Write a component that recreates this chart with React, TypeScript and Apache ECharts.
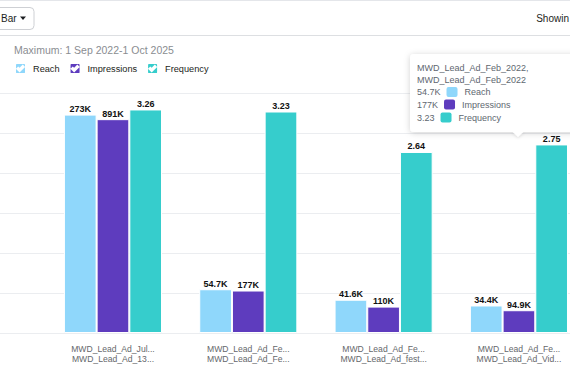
import React, { useEffect, useRef } from "react";
import * as echarts from "echarts";

// ---- data ----
const categoryLabels = [
  "MWD_Lead_Ad_Jul...\nMWD_Lead_Ad_13...",
  "MWD_Lead_Ad_Fe...\nMWD_Lead_Ad_Fe...",
  "MWD_Lead_Ad_Fe...\nMWD_Lead_Ad_fest...",
  "MWD_Lead_Ad_Fe...\nMWD_Lead_Ad_Vid...",
];
const reach = [273000, 54700, 41600, 34400];
const impressions = [891000, 177000, 110000, 94900];
const frequency = [3.26, 3.23, 2.64, 2.75];
const seriesNames = ["Reach", "Impressions", "Frequency"];
const seriesColors = ["#8fd7fb", "#5e3cbe", "#36cdcc"];
const axisMax = [300000, 1000000, 3.5];
const tooltipTitle = ["MWD_Lead_Ad_Feb_2022,", "MWD_Lead_Ad_Feb_2022"];
const tooltipIndex = 1;
const subtitle = "Maximum: 1 Sep 2022-1 Oct 2025";
const viewLabel = "Bar";
const showingLabel = "Showin";

const FONT = "'Liberation Sans', Arial, Helvetica, sans-serif";

function fmt(v: number): string {
  if (v >= 1000) return parseFloat((v / 1000).toPrecision(3)) + "K";
  return String(v);
}

const checkIcon =
  "path://M4 0H20Q24 0 24 4V20Q24 24 20 24H4Q0 24 0 20V4Q0 0 4 0Z M5 12.5L10 17.5L19 8.5L17 6.5L10 13.5L7 10.5Z";

export default function App() {
  const ref = useRef<HTMLDivElement>(null);

  useEffect(() => {
    if (!ref.current) return;
    const chart = echarts.init(ref.current, undefined, { renderer: "svg" });

    const seriesData = [reach, impressions, frequency];

    const tipColor = "#606770";
    const rowRich: any = {
      v: { fontSize: 9, color: tipColor, fontFamily: FONT },
      l: { fontSize: 9, color: tipColor, fontFamily: FONT },
      sp: { width: 6 },
      sp2: { width: 7 },
    };
    seriesColors.forEach((c, i) => {
      rowRich["s" + i] = { width: 11, height: 10, backgroundColor: c, borderRadius: 2 };
    });

    const titleYs = [68.3, 79.8];
    const rowYs = [92, 104.6, 117.6];
    const TZ = 100;

    const tipTexts: any[] = [
      ...tooltipTitle.map((t, i) => ({
        type: "text",
        z: TZ + 2,
        x: 417,
        y: titleYs[i],
        silent: true,
        style: {
          text: t,
          fontSize: 9,
          fill: tipColor,
          fontFamily: FONT,
          verticalAlign: "middle",
        },
      })),
      ...seriesNames.map((n, i) => ({
        type: "text",
        z: TZ + 2,
        x: 417,
        y: rowYs[i],
        silent: true,
        style: {
          text: `{v|${fmt(seriesData[i][tooltipIndex])}}{sp| }{s${i}| }{sp2| }{l|${n}}`,
          rich: rowRich,
          fontSize: 9,
          fill: tipColor,
          fontFamily: FONT,
          verticalAlign: "middle",
        },
      })),
    ];

    const option: any = {
      animation: false,
      backgroundColor: "#ffffff",
      textStyle: { fontFamily: FONT },
      title: {
        text: subtitle,
        left: 14,
        top: 44,
        padding: 0,
        textStyle: {
          fontSize: 10.5,
          fontWeight: "normal",
          color: "#8a8d91",
          fontFamily: FONT,
        },
      },
      legend: {
        data: seriesNames,
        left: 14,
        top: 62,
        padding: 0,
        itemWidth: 11,
        itemHeight: 11,
        itemGap: 9,
        icon: checkIcon,
        textStyle: {
          fontSize: 9.2,
          color: "#1c1e21",
          fontFamily: FONT,
          padding: [0, 0, 0, 2],
        },
      },
      grid: [
        { left: 45.3, width: 541.3, top: 93, height: 240, outerBoundsMode: "none", containLabel: false },
        { left: 0, width: 570, top: 93, height: 240, outerBoundsMode: "none", containLabel: false },
      ],
      xAxis: [
        {
          type: "category",
          gridIndex: 0,
          data: categoryLabels,
          axisLine: { show: false },
          axisTick: { show: false },
          axisLabel: {
            fontSize: 8.6,
            color: "#65676b",
            lineHeight: 10,
            margin: 11,
            interval: 0,
            fontFamily: FONT,
          },
        },
        { type: "value", gridIndex: 1, show: false, min: 0, max: 1 },
      ],
      yAxis: [
        ...axisMax.map((m) => ({
          type: "value",
          gridIndex: 0,
          min: 0,
          max: m,
          show: false,
          splitLine: { show: false },
        })),
        {
          type: "value",
          gridIndex: 1,
          min: 0,
          max: 6,
          interval: 1,
          axisLine: { show: false },
          axisTick: { show: false },
          axisLabel: { show: false },
          splitLine: { show: true, lineStyle: { color: "#ebedf0", width: 1 } },
        },
      ],
      series: seriesNames.map((n, i) => ({
        name: n,
        type: "bar",
        xAxisIndex: 0,
        yAxisIndex: i,
        data: seriesData[i],
        barWidth: 32.7,
        barGap: "0%",
        itemStyle: { color: seriesColors[i], borderColor: "#ffffff", borderWidth: 1 },
        label: {
          show: true,
          position: "top",
          distance: 1,
          fontSize: 9,
          fontWeight: "bold",
          color: "#111111",
          fontFamily: FONT,
          formatter: (p: any) => fmt(p.value),
        },
      })),
      graphic: [
        {
          type: "line",
          shape: { x1: 0, y1: 0.5, x2: 570, y2: 0.5 },
          style: { stroke: "#e4e6ea", lineWidth: 1 },
          silent: true,
        },
        {
          type: "rect",
          shape: { x: -6, y: 7.5, width: 40, height: 22, r: 4 },
          style: { fill: "#ffffff", stroke: "#ced0d4", lineWidth: 1 },
          silent: true,
        },
        {
          type: "text",
          x: 1,
          y: 18.5,
          style: {
            text: viewLabel,
            fontSize: 10,
            fill: "#1c1e21",
            fontFamily: FONT,
            verticalAlign: "middle",
          },
          silent: true,
        },
        {
          type: "polygon",
          shape: { points: [[20, 16.5], [26, 16.5], [23, 20]] },
          style: { fill: "#1c1e21" },
          silent: true,
        },
        {
          type: "text",
          x: 569,
          y: 18.5,
          style: {
            text: showingLabel,
            fontSize: 10,
            fill: "#1c1e21",
            fontFamily: FONT,
            align: "right",
            verticalAlign: "middle",
          },
          silent: true,
        },
        {
          type: "line",
          shape: { x1: 0, y1: 35.5, x2: 570, y2: 35.5 },
          style: { stroke: "#dddfe2", lineWidth: 1 },
          silent: true,
        },
        {
          type: "rect",
          z: TZ,
          silent: true,
          shape: { x: 410, y: 54, width: 175, height: 78, r: 4 },
          style: {
            fill: "#ffffff",
            shadowBlur: 6,
            shadowColor: "rgba(0,0,0,0.18)",
            shadowOffsetY: 1,
          },
        },
        {
          type: "polygon",
          z: TZ,
          silent: true,
          shape: { points: [[512, 131.5], [524, 131.5], [518, 137]] },
          style: {
            fill: "#ffffff",
            shadowBlur: 3,
            shadowColor: "rgba(0,0,0,0.12)",
            shadowOffsetY: 1,
          },
        },
        {
          type: "rect",
          z: TZ + 1,
          silent: true,
          shape: { x: 505, y: 127, width: 26, height: 5 },
          style: { fill: "#ffffff" },
        },
        ...tipTexts,
      ],
    };

    chart.setOption(option);
    return () => chart.dispose();
  }, []);

  return (
    <div
      ref={ref}
      style={{
        position: "fixed",
        left: 0,
        top: 0,
        width: 570,
        height: 390,
        background: "#ffffff",
      }}
    />
  );
}
